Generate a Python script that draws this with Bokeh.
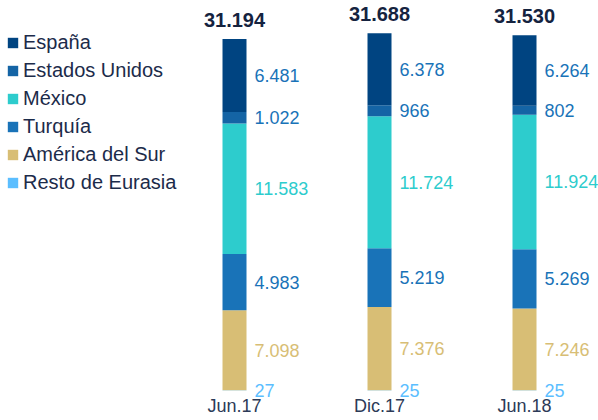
import numpy as np
from bokeh.plotting import figure
from bokeh.models import Range1d, Legend, LegendItem, ColumnDataSource
from bokeh.core.properties import value
from bokeh.embed import file_html
from bokeh.resources import INLINE

# ---- data ----
categories = ["Jun.17", "Dic.17", "Jun.18"]
series = ["Resto de Eurasia", "América del Sur", "Turquía", "México", "Estados Unidos", "España"]  # bottom -> top
resto = [27, 25, 25]
america = [7098, 7376, 7246]
turquia = [4983, 5219, 5269]
mexico = [11583, 11724, 11924]
eeuu = [1022, 966, 802]
espana = [6481, 6378, 6264]
totals = [31194, 31688, 31530]

colors = ["#5BBEFF", "#D8BE75", "#1973B8", "#2DCCCD", "#1464A5", "#004481"]
label_colors = ["#5BBEFF", "#D8BE75", "#1973B8", "#2DCCCD", "#1973B8", "#1973B8"]

FONT = "Liberation Sans"

def fmt(v):
    return f"{v:,}".replace(",", ".")

stacks = [resto, america, turquia, mexico, eeuu, espana]
keys = ["s%d" % i for i in range(len(series))]
xs = list(range(len(categories)))
data = {"x": xs}
for k, s in zip(keys, stacks):
    data[k] = s
src = ColumnDataSource(data)

bar_w = 0.1655

p = figure(width=598, height=420, x_range=Range1d(-1.6138, 2.5103),
           y_range=Range1d(-2662, 34605), toolbar_location=None,
           output_backend="svg", min_border=0, outline_line_color=None)
p.axis.visible = False
p.grid.visible = False
p.background_fill_color = "white"
p.border_fill_color = "white"

rends = p.vbar_stack(keys, x="x", width=bar_w, color=colors, line_color=None, source=src)

# value labels at segment midpoints
lx, ly, lt, lc = [], [], [], []
for j in xs:
    base = 0
    for i, s in enumerate(stacks):
        v = s[j]
        lx.append(j + bar_w / 2)
        ly.append(base + v / 2)
        lt.append(fmt(v))
        lc.append(label_colors[i])
        base += v
lsrc = ColumnDataSource(dict(x=lx, y=ly, t=lt, c=lc))
p.text(x="x", y="y", text="t", text_color="c", source=lsrc, x_offset=8,
       text_align="left", text_baseline="middle",
       text_font=value(FONT), text_font_size="18px")

# totals
tops = [sum(s[j] for s in stacks) for j in xs]
tsrc = ColumnDataSource(dict(x=xs, y=tops, t=[fmt(v) for v in totals]))
p.text(x="x", y="y", text="t", source=tsrc, y_offset=-19,
       text_align="center", text_baseline="middle", text_color="#15233F",
       text_font=value(FONT), text_font_style="bold", text_font_size="20px")

# category labels
csrc = ColumnDataSource(dict(x=xs, y=[0] * len(xs), t=categories))
p.text(x="x", y="y", text="t", source=csrc, y_offset=16,
       text_align="center", text_baseline="middle", text_color="#2C3A57",
       text_font=value(FONT), text_font_size="18px")

items = [LegendItem(label=series[i], renderers=[rends[i]]) for i in reversed(range(len(series)))]
legend = Legend(items=items, location=(6, 224), orientation="vertical",
                glyph_width=13, glyph_height=13, label_height=28, spacing=0,
                padding=0, margin=0, border_line_color=None,
                background_fill_alpha=0, label_standoff=4,
                label_text_font=FONT, label_text_font_size="20px",
                label_text_color="#1C2B4A")
p.add_layout(legend)

open("out.html", "w").write(file_html(p, INLINE))
